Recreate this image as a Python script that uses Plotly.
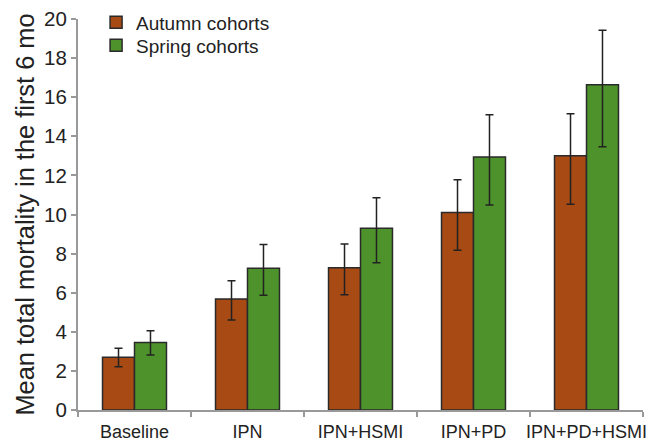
import plotly.graph_objects as go

categories = ["Baseline", "IPN", "IPN+HSMI", "IPN+PD", "IPN+PD+HSMI"]
autumn = [2.7, 5.68, 7.28, 10.1, 13.0]
autumn_plus = [0.46, 0.93, 1.21, 1.68, 2.15]
autumn_minus = [0.49, 1.08, 1.38, 1.93, 2.48]
spring = [3.45, 7.25, 9.3, 12.94, 16.64]
spring_plus = [0.6, 1.22, 1.56, 2.16, 2.78]
spring_minus = [0.64, 1.38, 1.77, 2.45, 3.17]
y_ticks = [0, 2, 4, 6, 8, 10, 12, 14, 16, 18, 20]

fig = go.Figure()
fig.add_trace(go.Bar(
    name="Autumn cohorts", x=categories, y=autumn, legend="legend",
    marker=dict(color="#A84A14", line=dict(color="#2a2a2a", width=1.5)),
    error_y=dict(type="data", symmetric=False, array=autumn_plus, arrayminus=autumn_minus,
                 color="#222222", thickness=1.5, width=4),
))
fig.add_trace(go.Bar(
    name="Spring cohorts", x=categories, y=spring, legend="legend2",
    marker=dict(color="#4E922B", line=dict(color="#2a2a2a", width=1.5)),
    error_y=dict(type="data", symmetric=False, array=spring_plus, arrayminus=spring_minus,
                 color="#222222", thickness=1.5, width=4),
))

legend_style = dict(xanchor="left", yanchor="top", font=dict(size=19, color="#222222"),
                    bgcolor="rgba(0,0,0,0)")

fig.update_layout(
    width=662, height=443,
    margin=dict(l=78, r=19, t=19, b=33, autoexpand=False),
    barmode="group", bargap=0.434, bargroupgap=0,
    plot_bgcolor="white", paper_bgcolor="white",
    font=dict(family="Liberation Sans, Arial, sans-serif", color="#222222"),
    showlegend=True,
    legend=dict(x=0.032, y=1.04, **legend_style),
    legend2=dict(x=0.032, y=0.981, **legend_style),
    xaxis=dict(showline=True, linecolor="#999999", linewidth=2, automargin=False,
               ticks="outside", tickson="boundaries", ticklen=5, tickcolor="#999999",
               tickwidth=1.5, tickangle=0, ticklabelstandoff=4,
               tickfont=dict(size=18, color="#222222"), showgrid=False),
    yaxis=dict(range=[0, 20], tickvals=y_ticks, showline=True, linecolor="#999999", linewidth=2,
               automargin=False,
               ticks="outside", ticklen=5, tickcolor="#999999", tickwidth=1.5,
               tickfont=dict(size=20.5, color="#222222"), showgrid=False, zeroline=False,
               title=dict(text="Mean total mortality in the first 6 mo", font=dict(size=25.4, color="#222222"),
                          standoff=2)),
)

fig.write_html("out.html", config={"displayModeBar": False},
               post_script="document.body.style.margin='0';")
